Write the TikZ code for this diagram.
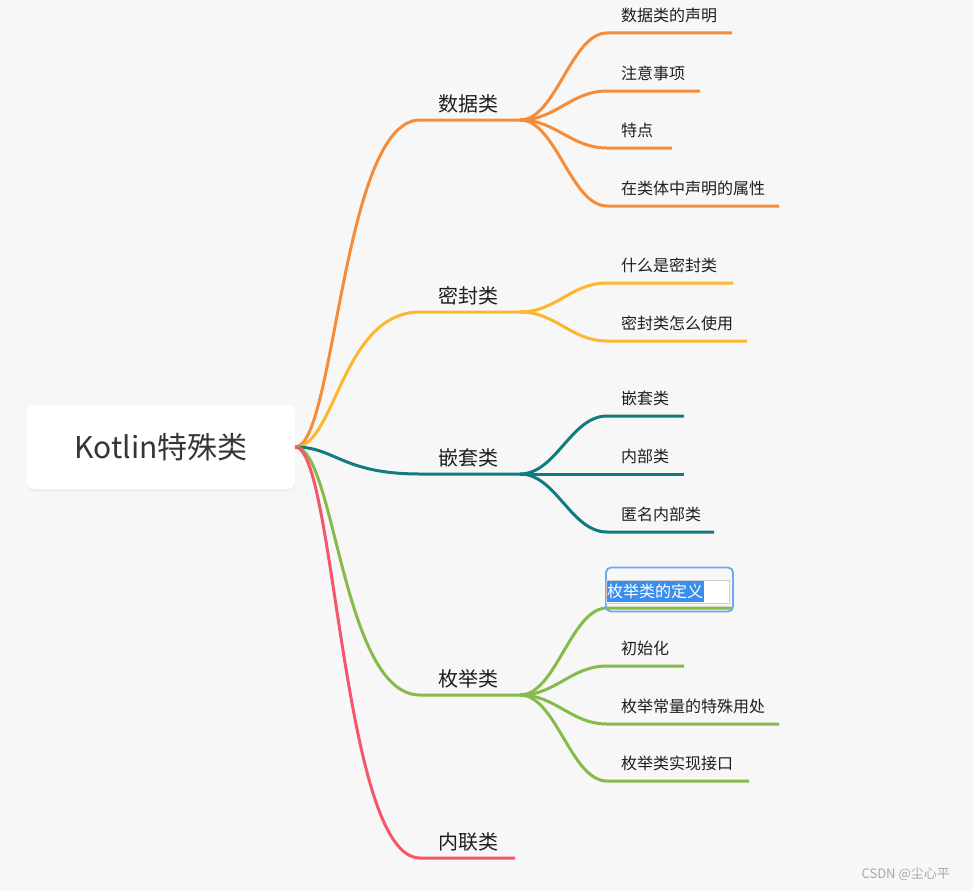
\documentclass[tikz,border=0pt]{standalone}
\usepackage{fontspec}
\setmainfont{Noto Sans CJK SC}
\usetikzlibrary{shadows}
\definecolor{bg}{HTML}{F7F7F7}
\definecolor{txt}{HTML}{1E1E1E}
\definecolor{cOrange}{HTML}{F68C38}
\definecolor{cYellow}{HTML}{FDB62E}
\definecolor{cTeal}{HTML}{117C80}
\definecolor{cGreen}{HTML}{86BA4B}
\definecolor{cRed}{HTML}{F5566A}
\definecolor{selBlue}{HTML}{3B8EEA}
\definecolor{boxBlue}{HTML}{6AABF0}
\definecolor{mark}{HTML}{A8A8A8}
\begin{document}
\begin{tikzpicture}[x=1pt,y=-1pt,
  branch/.style={line width=3pt},
  rootbox/.style={fill=white, rounded corners=7pt, minimum width=268pt, minimum height=84pt,
    inner sep=0pt, text=txt!90, font=\fontsize{30}{36}\selectfont,
    drop shadow={shadow xshift=0pt, shadow yshift=-2pt, opacity=0.08}},
  mainlabel/.style={inner sep=0pt, text=txt, font=\fontsize{20}{24}\selectfont},
  childlabel/.style={inner sep=0pt, anchor=west, text=txt, font=\fontsize{16}{19}\selectfont}
]
\useasboundingbox[fill=bg] (0,0) rectangle (973,891);

% root
\node[rootbox] (root) at (161,447) {Kotlin特殊类};

% ---------- main branches ----------
\foreach \n/\y/\c/\t in {1/120/cOrange/数据类, 2/312/cYellow/密封类, 3/474/cTeal/嵌套类, 4/695/cGreen/枚举类, 5/858/cRed/内联类}{
  \coordinate (m\n s) at (420,\y);
  \coordinate (m\n e) at (\ifnum\n=5 515\else 520\fi,\y);
  \node[mainlabel] (m\n) at (468,\y-16) {\t};
  \draw[branch, \c] (root.east) .. controls +(40,0) and +(-78,0) .. (m\n s) -- (m\n e);
}

% ---------- children ----------
\foreach \p/\k/\y/\xe/\c/\t in {
  1/1/33/732/cOrange/数据类的声明,
  1/2/91/700/cOrange/注意事项,
  1/3/148/672/cOrange/特点,
  1/4/206/779/cOrange/在类体中声明的属性,
  2/1/283/733/cYellow/什么是密封类,
  2/2/341/747/cYellow/密封类怎么使用,
  3/1/416/684/cTeal/嵌套类,
  3/2/474/684/cTeal/内部类,
  3/3/532/714/cTeal/匿名内部类,
  4/2/666/684/cGreen/初始化,
  4/3/724/779/cGreen/枚举常量的特殊用处,
  4/4/781/749/cGreen/枚举类实现接口}{
  \coordinate (c\p\k s) at (607,\y);
  \coordinate (c\p\k e) at (\xe,\y);
  \node[childlabel] (c\p\k) at (621,\y-17.5) {\t};
  \draw[branch, \c] (m\p e) .. controls +(36,0) and +(-36,0) .. (c\p\k s) -- (c\p\k e);
}

% selected child (being edited)
\coordinate (c41s) at (607,608);
\coordinate (c41e) at (732,608);
\draw[branch, cGreen] (m4e) .. controls +(36,0) and +(-36,0) .. (c41s) -- (c41e);
\node[draw=boxBlue, line width=1.8pt, rounded corners=5pt, minimum width=127pt, minimum height=44pt,
  inner sep=0pt] (selbox) at (669.5,589.5) {};
\node[draw=black!20, fill=white, line width=0.8pt, minimum width=123pt, minimum height=23pt,
  inner sep=0pt] (editbox) at (667.5,591.5) {};
\node[childlabel, fill=selBlue, text=white, minimum height=21pt, inner xsep=0.5pt] (c41) at (606.5,591.5) {枚举类的定义};

% watermark
\node[inner sep=0pt, anchor=east, text=mark, font=\fontsize{13}{15}\selectfont] (wm) at (950,874) {CSDN @尘心平};
\end{tikzpicture}
\end{document}
